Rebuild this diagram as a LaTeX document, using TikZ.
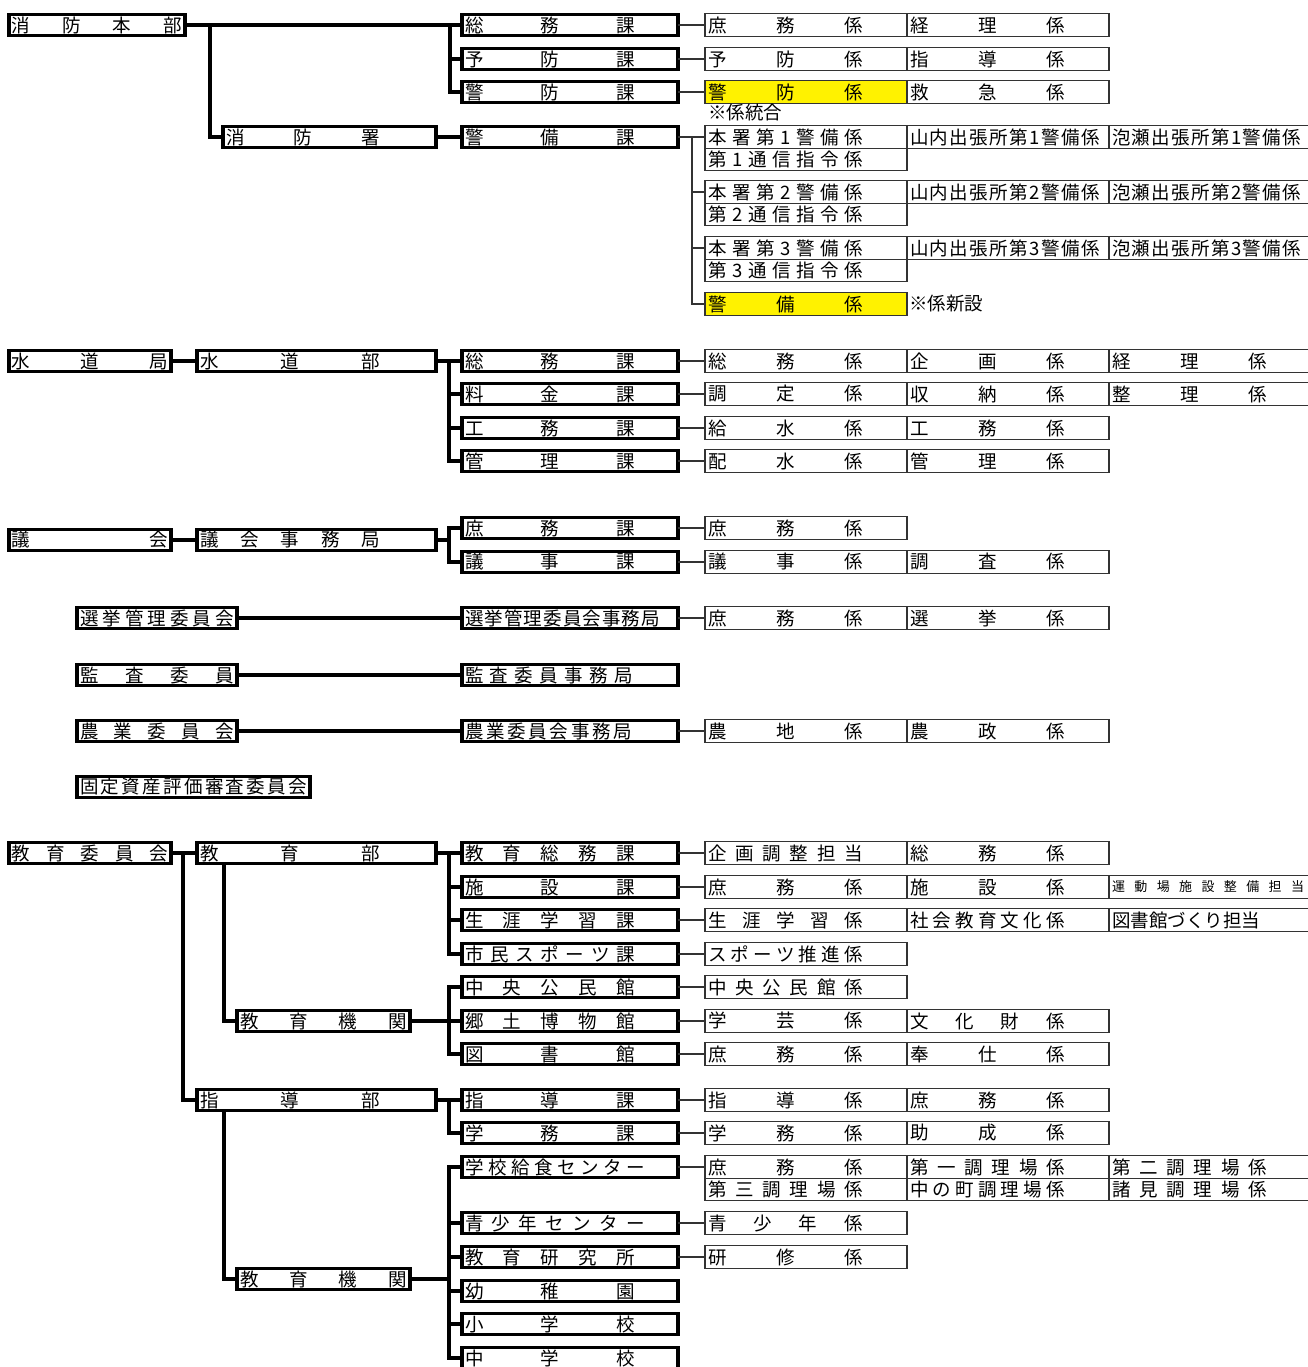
\documentclass[tikz,border=0pt]{standalone}
\usepackage{fontspec}
\setmainfont{Noto Sans CJK JP}
\usetikzlibrary{positioning}

% spread the characters of a label evenly over a width
\def\spreadtxt#1#2\endspread{#1\ifx\relax#2\relax\else\hfill\spreadtxt#2\endspread\fi}
\newcommand\dist[2][155pt]{\makebox[#1][s]{\expandafter\spreadtxt#2\endspread}}

\tikzset{
  org/.style={draw, line width=3.2pt, anchor=west, minimum height=20.5pt,
              inner xsep=3pt, inner ysep=0pt, outer sep=0pt, align=left},
  sect/.style={org, text width=210pt},
  unit/.style={draw=black!80, line width=1.2pt, anchor=west, minimum height=22.5pt,
               inner xsep=3pt, inner ysep=0pt, outer sep=0pt, text width=196pt, align=left},
  hl/.style={fill=yellow},
  link/.style={line width=3.2pt},
  sublink/.style={draw=black!80, line width=1.2pt},
  note/.style={anchor=west, inner sep=0pt}
}

\begin{document}
\begin{tikzpicture}[x=1pt, y=-1pt, font=\fontsize{18.5pt}{20pt}\selectfont]
\useasboundingbox (0,0) rectangle (1308,1367);
\clip (0,0) rectangle (1308,1367);

% ===== Fire department =====
\node[org, text width=170pt] (fhq) at (9,25) {\dist[170pt]{消防本部}};
\node[org, text width=207pt] (fsta) at (223,137) {\dist[154pt]{消防署}};
\draw[link] (fsta.west) -- ++(-13,0) |- (fhq.east);

\foreach \n/\y/\t in {fsomu/25/総務課, fyobo/59/予防課, fkeibo/92/警防課} {
  \node[sect] (\n) at (462,\y) {\dist[170pt]{\t}};
  \draw[link] (\n.west) -- ++(-12,0) |- (fhq.east);
}
\node[sect] (fkeibi) at (462,137) {\dist[170pt]{警備課}};
\draw[link] (fsta.east) -- (fkeibi.west);

% units
\node[unit] (fu1) at (705,25) {\dist{庶務係}};
\node[unit, right=0pt of fu1] (fu1b) {\dist{経理係}};
\node[unit] (fu2) at (705,59) {\dist{予防係}};
\node[unit, right=0pt of fu2] (fu2b) {\dist{指導係}};
\node[unit, hl] (fu3) at (705,92) {\dist{警防係}};
\node[unit, right=0pt of fu3] (fu3b) {\dist{救急係}};
\draw[sublink] (fsomu.east) -- (fu1.west);
\draw[sublink] (fyobo.east) -- (fu2.west);
\draw[sublink] (fkeibo.east) -- (fu3.west);
\node[note] (fnote1) at (708,113) {※係統合};

% watch units
\foreach \i/\y in {1/137, 2/192, 3/248} {
  \node[unit] (fg\i) at (705,\y) {\dist{本署第{\i}警備係}};
  \node[unit, right=0pt of fg\i] (fg\i b) {\dist[190pt]{山内出張所第{\i}警備係}};
  \node[unit, right=0pt of fg\i b] (fg\i c) {\dist[189pt]{泡瀬出張所第{\i}警備係}};
  \node[unit, below=0pt of fg\i] (fc\i) {\dist{第{\i}通信指令係}};
}
\node[unit, hl] (fg4) at (705,304) {\dist{警備係}};
\node[note] (fnote2) at (909,304) {※係新設};
\foreach \n in {fg1, fg2, fg3, fg4}
  \draw[sublink] (\n.west) -- ++(-13,0) |- (fkeibi.east);

% ===== Water bureau =====
\node[org, text width=156pt] (wbur) at (9,361) {\dist[156pt]{水道局}};
\node[org, text width=233pt] (wdept) at (197,361) {\dist[180pt]{水道部}};
\draw[link] (wbur.east) -- (wdept.west);
\foreach \n/\y/\t in {wsomu/361/総務課, wryo/394/料金課, wko/428/工務課, wkan/461/管理課} {
  \node[sect] (\n) at (462,\y) {\dist[170pt]{\t}};
  \draw[link] (\n.west) -- ++(-13,0) |- (wdept.east);
}
\node[unit] (wu1) at (705,361) {\dist{総務係}};
\node[unit, right=0pt of wu1] (wu1b) {\dist{企画係}};
\node[unit, right=0pt of wu1b] (wu1c) {\dist{経理係}};
\node[unit] (wu2) at (705,394) {\dist{調定係}};
\node[unit, right=0pt of wu2] (wu2b) {\dist{収納係}};
\node[unit, right=0pt of wu2b] (wu2c) {\dist{整理係}};
\node[unit] (wu3) at (705,428) {\dist{給水係}};
\node[unit, right=0pt of wu3] (wu3b) {\dist{工務係}};
\node[unit] (wu4) at (705,461) {\dist{配水係}};
\node[unit, right=0pt of wu4] (wu4b) {\dist{管理係}};
\draw[sublink] (wsomu.east) -- (wu1.west);
\draw[sublink] (wryo.east) -- (wu2.west);
\draw[sublink] (wko.east) -- (wu3.west);
\draw[sublink] (wkan.east) -- (wu4.west);

% ===== Council =====
\node[org, text width=156pt] (gikai) at (9,540) {\dist[156pt]{議会}};
\node[org, text width=233pt] (gjim) at (197,540) {\dist[180pt]{議会事務局}};
\draw[link] (gikai.east) -- (gjim.west);
\foreach \n/\y/\t in {gsomu/528/庶務課, ggiji/562/議事課} {
  \node[sect] (\n) at (462,\y) {\dist[170pt]{\t}};
  \draw[link] (\n.west) -- ++(-13,0) |- (gjim.east);
}
\node[unit] (gu1) at (705,528) {\dist{庶務係}};
\node[unit] (gu2) at (705,562) {\dist{議事係}};
\node[unit, right=0pt of gu2] (gu2b) {\dist{調査係}};
\draw[sublink] (gsomu.east) -- (gu1.west);
\draw[sublink] (ggiji.east) -- (gu2.west);

% ===== Commissions =====
\node[org, text width=154pt] (senkan) at (77,618) {\dist[154pt]{選挙管理委員会}};
\node[sect] (senjim) at (462,618) {\dist[195pt]{選挙管理委員会事務局}};
\draw[link] (senkan.east) -- (senjim.west);
\node[unit] (su1) at (705,618) {\dist{庶務係}};
\node[unit, right=0pt of su1] (su1b) {\dist{選挙係}};
\draw[sublink] (senjim.east) -- (su1.west);

\node[org, text width=154pt] (kansa) at (77,675) {\dist[154pt]{監査委員}};
\node[sect] (kanjim) at (462,675) {\dist[168pt]{監査委員事務局}};
\draw[link] (kansa.east) -- (kanjim.west);

\node[org, text width=154pt] (nogyo) at (77,731) {\dist[154pt]{農業委員会}};
\node[sect] (nojim) at (462,731) {\dist[167pt]{農業委員会事務局}};
\draw[link] (nogyo.east) -- (nojim.west);
\node[unit] (nu1) at (705,731) {\dist{農地係}};
\node[unit, right=0pt of nu1] (nu1b) {\dist{農政係}};
\draw[sublink] (nojim.east) -- (nu1.west);

\node[org, text width=227pt] (kotei) at (77,787) {\dist[227pt]{固定資産評価審査委員会}};

% ===== Board of education =====
\node[org, text width=156pt] (ed) at (9,853) {\dist[156pt]{教育委員会}};
\node[org, text width=233pt] (edbu) at (197,853) {\dist[180pt]{教育部}};
\node[org, text width=233pt] (shido) at (197,1100) {\dist[180pt]{指導部}};
\draw[link] (ed.east) -- (edbu.west);
\draw[link] (shido.west) -- ++(-14,0) |- (ed.east);

\foreach \n/\y/\t in {esomu/853/教育総務課, eshi/887/施設課, esho/920/生涯学習課, espo/954/市民スポーツ課} {
  \node[sect] (\n) at (462,\y) {\dist[170pt]{\t}};
  \draw[link] (\n.west) -- ++(-13,0) |- (edbu.east);
}
\node[org, text width=167pt] (kikan1) at (237,1021) {\dist[167pt]{教育機関}};
\draw[link] (kikan1.west) -| ([xshift=27pt]edbu.south west);
\foreach \n/\y/\t in {ekomin/987/中央公民館, ehaku/1021/郷土博物館, etosho/1054/図書館} {
  \node[sect] (\n) at (462,\y) {\dist[170pt]{\t}};
  \draw[link] (\n.west) -- ++(-13,0) |- (kikan1.east);
}

\foreach \n/\y/\t in {sshido/1100/指導課, sgakumu/1133/学務課} {
  \node[sect] (\n) at (462,\y) {\dist[170pt]{\t}};
  \draw[link] (\n.west) -- ++(-13,0) |- (shido.east);
}
\node[org, text width=167pt] (kikan2) at (237,1279) {\dist[167pt]{教育機関}};
\draw[link] (kikan2.west) -| ([xshift=27pt]shido.south west);
\foreach \n/\y/\t/\w in {kkyu/1167/学校給食センター/180pt, kseisho/1223/青少年センター/180pt,
                         kken/1257/教育研究所/170pt, kyochi/1291/幼稚園/170pt,
                         ksho/1324/小学校/170pt, kchu/1358/中学校/170pt} {
  \node[sect] (\n) at (462,\y) {\dist[\w]{\t}};
  \draw[link] (\n.west) -- ++(-13,0) |- (kikan2.east);
}

% units
\node[unit] (eu1) at (705,853) {\dist{企画調整担当}};
\node[unit, right=0pt of eu1] (eu1b) {\dist{総務係}};
\node[unit] (eu2) at (705,887) {\dist{庶務係}};
\node[unit, right=0pt of eu2] (eu2b) {\dist{施設係}};
\node[unit, right=0pt of eu2b] (eu2c) {\fontsize{13pt}{14pt}\selectfont\dist[192pt]{運動場施設整備担当}};
\node[unit] (eu3) at (705,920) {\dist{生涯学習係}};
\node[unit, right=0pt of eu3] (eu3b) {\dist{社会教育文化係}};
\node[unit, right=0pt of eu3b] (eu3c) {図書館づくり担当};
\node[unit] (eu4) at (705,954) {\dist{スポーツ推進係}};
\node[unit] (eu5) at (705,987) {\dist{中央公民館係}};
\node[unit] (eu6) at (705,1021) {\dist{学芸係}};
\node[unit, right=0pt of eu6] (eu6b) {\dist{文化財係}};
\node[unit] (eu7) at (705,1054) {\dist{庶務係}};
\node[unit, right=0pt of eu7] (eu7b) {\dist{奉仕係}};
\node[unit] (eu8) at (705,1100) {\dist{指導係}};
\node[unit, right=0pt of eu8] (eu8b) {\dist{庶務係}};
\node[unit] (eu9) at (705,1133) {\dist{学務係}};
\node[unit, right=0pt of eu9] (eu9b) {\dist{助成係}};
\node[unit] (eu10) at (705,1167) {\dist{庶務係}};
\node[unit, right=0pt of eu10] (eu10b) {\dist{第一調理場係}};
\node[unit, right=0pt of eu10b] (eu10c) {\dist{第二調理場係}};
\node[unit, below=0pt of eu10] (eu11) {\dist{第三調理場係}};
\node[unit, below=0pt of eu10b] (eu11b) {\dist{中の町調理場係}};
\node[unit, below=0pt of eu10c] (eu11c) {\dist{諸見調理場係}};
\node[unit] (eu12) at (705,1223) {\dist{青少年係}};
\node[unit] (eu13) at (705,1257) {\dist{研修係}};

\foreach \a/\b in {esomu/eu1, eshi/eu2, esho/eu3, espo/eu4, ekomin/eu5, ehaku/eu6,
                   etosho/eu7, sshido/eu8, sgakumu/eu9, kkyu/eu10, kseisho/eu12, kken/eu13}
  \draw[sublink] (\a.east) -- (\b.west);

\end{tikzpicture}
\end{document}
